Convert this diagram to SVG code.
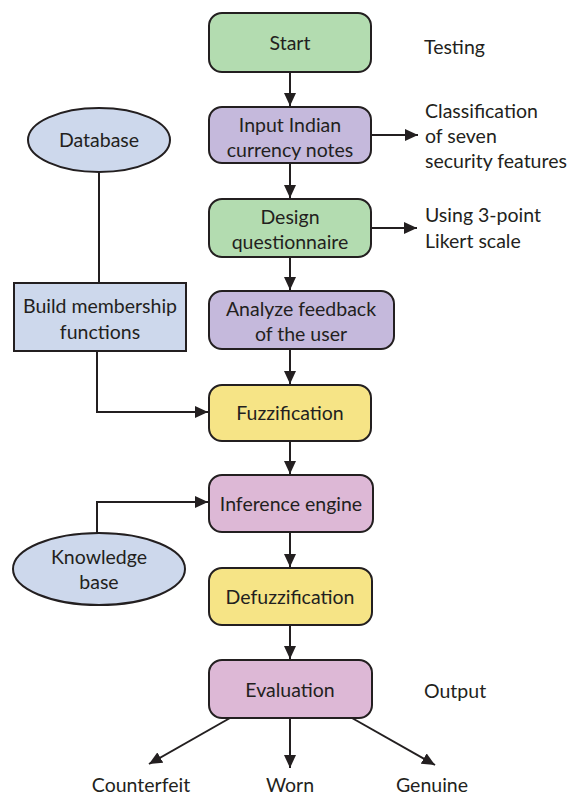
<svg xmlns="http://www.w3.org/2000/svg" width="582" height="795" viewBox="0 0 582 795">
<style>
text{font-family:Lato,"Open Sans","Liberation Sans",sans-serif;font-size:19.5px;fill:#231f20;text-anchor:middle}
.l{text-anchor:start}
.n{stroke:#231f20;stroke-width:2}
.g{fill:#b3dcb0}.p{fill:#c5b9dc}.y{fill:#f6e486}.k{fill:#ddb8d6}.b{fill:#cdd8ec}
.c{fill:none;stroke:#231f20;stroke-width:2}
</style>
<defs>
<marker id="a" viewBox="0 0 13 12" refX="13" refY="6" markerWidth="13" markerHeight="12" markerUnits="userSpaceOnUse" orient="auto">
<path d="M0,0L13,6L0,12z" fill="#231f20"/>
</marker>
</defs>
<g id="connectors">
<path class="c" d="M290,72V106" marker-end="url(#a)"/>
<path class="c" d="M290,163V198" marker-end="url(#a)"/>
<path class="c" d="M290,257V290" marker-end="url(#a)"/>
<path class="c" d="M290,349V384" marker-end="url(#a)"/>
<path class="c" d="M290,441V474" marker-end="url(#a)"/>
<path class="c" d="M290,532V567" marker-end="url(#a)"/>
<path class="c" d="M290,625V659" marker-end="url(#a)"/>
<path class="c" d="M371,135H418" marker-end="url(#a)"/>
<path class="c" d="M371,228H417" marker-end="url(#a)"/>
<path class="c" d="M99,172V283"/>
<path class="c" d="M97,351V412H208" marker-end="url(#a)"/>
<path class="c" d="M97,533V502H208" marker-end="url(#a)"/>
<path class="c" d="M230,718L149,764" marker-end="url(#a)"/>
<path class="c" d="M290,718V768" marker-end="url(#a)"/>
<path class="c" d="M352,718L435,765" marker-end="url(#a)"/>
</g>
<g id="start"><rect class="n g" x="209" y="13" width="162" height="59" rx="13"/><text x="290" y="50">Start</text></g>
<g id="input"><rect class="n p" x="209" y="107" width="162" height="56" rx="13"/><text x="290" y="132">Input Indian</text><text x="290" y="157">currency notes</text></g>
<g id="design"><rect class="n g" x="209" y="199" width="162" height="58" rx="13"/><text x="290" y="224">Design</text><text x="290" y="249">questionnaire</text></g>
<g id="analyze"><rect class="n p" x="209" y="291" width="185" height="58" rx="13"/><text x="301" y="316">Analyze feedback</text><text x="301" y="341">of the user</text></g>
<g id="fuzz"><rect class="n y" x="209" y="385" width="162" height="56" rx="13"/><text x="290" y="420">Fuzzification</text></g>
<g id="inference"><rect class="n k" x="209" y="475" width="164" height="57" rx="13"/><text x="291" y="511">Inference engine</text></g>
<g id="defuzz"><rect class="n y" x="209" y="568" width="163" height="57" rx="13"/><text x="290" y="604">Defuzzification</text></g>
<g id="evaluation"><rect class="n k" x="209" y="660" width="163" height="58" rx="13"/><text x="290" y="697">Evaluation</text></g>
<g id="database"><ellipse class="n b" cx="99" cy="140" rx="71" ry="32"/><text x="99" y="147">Database</text></g>
<g id="build"><rect class="n b" x="14" y="283" width="172" height="68"/><text x="100" y="313">Build membership</text><text x="100" y="339">functions</text></g>
<g id="knowledge"><ellipse class="n b" cx="99" cy="569" rx="86" ry="36"/><text x="99" y="564">Knowledge</text><text x="99" y="589">base</text></g>
<g id="labels">
<text class="l" x="424" y="54">Testing</text>
<text class="l" x="425" y="118">Classification</text>
<text class="l" x="425" y="143">of seven</text>
<text class="l" x="425" y="168">security features</text>
<text class="l" x="425" y="222">Using 3-point</text>
<text class="l" x="425" y="248">Likert scale</text>
<text class="l" x="424" y="698">Output</text>
<text x="141" y="792">Counterfeit</text>
<text x="290" y="792">Worn</text>
<text x="432" y="792">Genuine</text>
</g>
</svg>
